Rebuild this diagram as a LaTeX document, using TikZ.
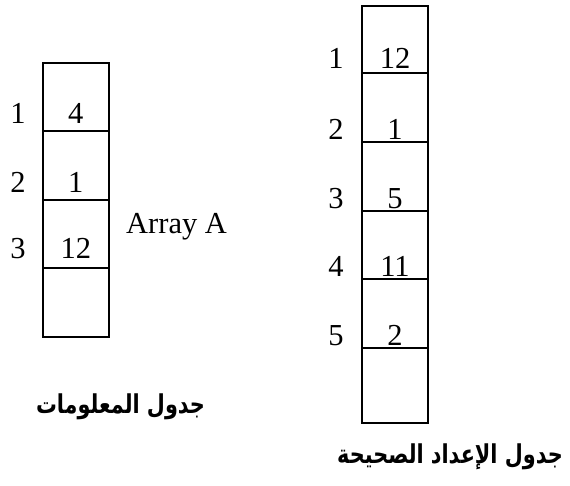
\documentclass[tikz,border=0pt]{standalone}
\usepackage{fontspec}
\usepackage{graphicx}
\setmainfont{Liberation Serif}
\newfontfamily\arabicfont[Script=Arabic]{DejaVu Sans}
\TeXXeTstate=1
\newcommand{\artext}[1]{\scalebox{1}[1.25]{\beginR #1\endR}}
\begin{document}
\begin{tikzpicture}[x=1pt,y=-1pt,
  cell/.style={draw,line width=1.8pt},
  val/.style={anchor=base,font=\fontsize{30.5}{30.5}\selectfont,inner sep=0pt},
  idx/.style={anchor=base,font=\fontsize{30.5}{30.5}\selectfont,inner sep=0pt},
  arraylabel/.style={font=\fontsize{30.5}{30.5}\selectfont,inner sep=0pt},
  artitle/.style={anchor=base,font=\arabicfont\bfseries\fontsize{20.8}{20.8}\selectfont,inner sep=0pt}]
\useasboundingbox (0,0) rectangle (570,485);

% Array A (left column): contents and indices
\node[val] (a1) at (75.8,123.3) {4};
\node[val] (a2) at (75.8,192) {1};
\node[val] (a3) at (75.8,258) {12};
\node[idx] (ia1) at (18,123.3) {1};
\node[idx] (ia2) at (18,192) {2};
\node[idx] (ia3) at (18,258) {3};
\node[arraylabel,anchor=base west] (labA) at (126,233.5) {Array A};
\node[artitle] (titleA) at (120.5,413.3) {\artext{جدول المعلومات}};

% Array A cells
\draw[cell] (42.7,62.7) rectangle (109,130.7);
\draw[cell] (42.7,130.7) rectangle (109,200);
\draw[cell] (42.7,200) rectangle (109,268);
\draw[cell] (42.7,268) rectangle (109,336.7);

% Right column: contents and indices
\node[val] (b1) at (395,68) {12};
\node[val] (b2) at (395,139.5) {1};
\node[val] (b3) at (395,208) {5};
\node[val] (b4) at (395,276.7) {11};
\node[val] (b5) at (395,345) {2};
\node[idx] (ib1) at (336,68) {1};
\node[idx] (ib2) at (336,139.5) {2};
\node[idx] (ib3) at (336,208) {3};
\node[idx] (ib4) at (336,276.7) {4};
\node[idx] (ib5) at (336,345) {5};
\node[artitle] (titleB) at (450,463.3) {\artext{جدول الإعداد الصحيحة}};

% Right column cells
\draw[cell] (361.7,6) rectangle (428.3,72.7);
\draw[cell] (361.7,72.7) rectangle (428.3,141.7);
\draw[cell] (361.7,141.7) rectangle (428.3,210.7);
\draw[cell] (361.7,210.7) rectangle (428.3,279.3);
\draw[cell] (361.7,279.3) rectangle (428.3,348.3);
\draw[cell] (361.7,348.3) rectangle (428.3,423.3);
\end{tikzpicture}
\end{document}
